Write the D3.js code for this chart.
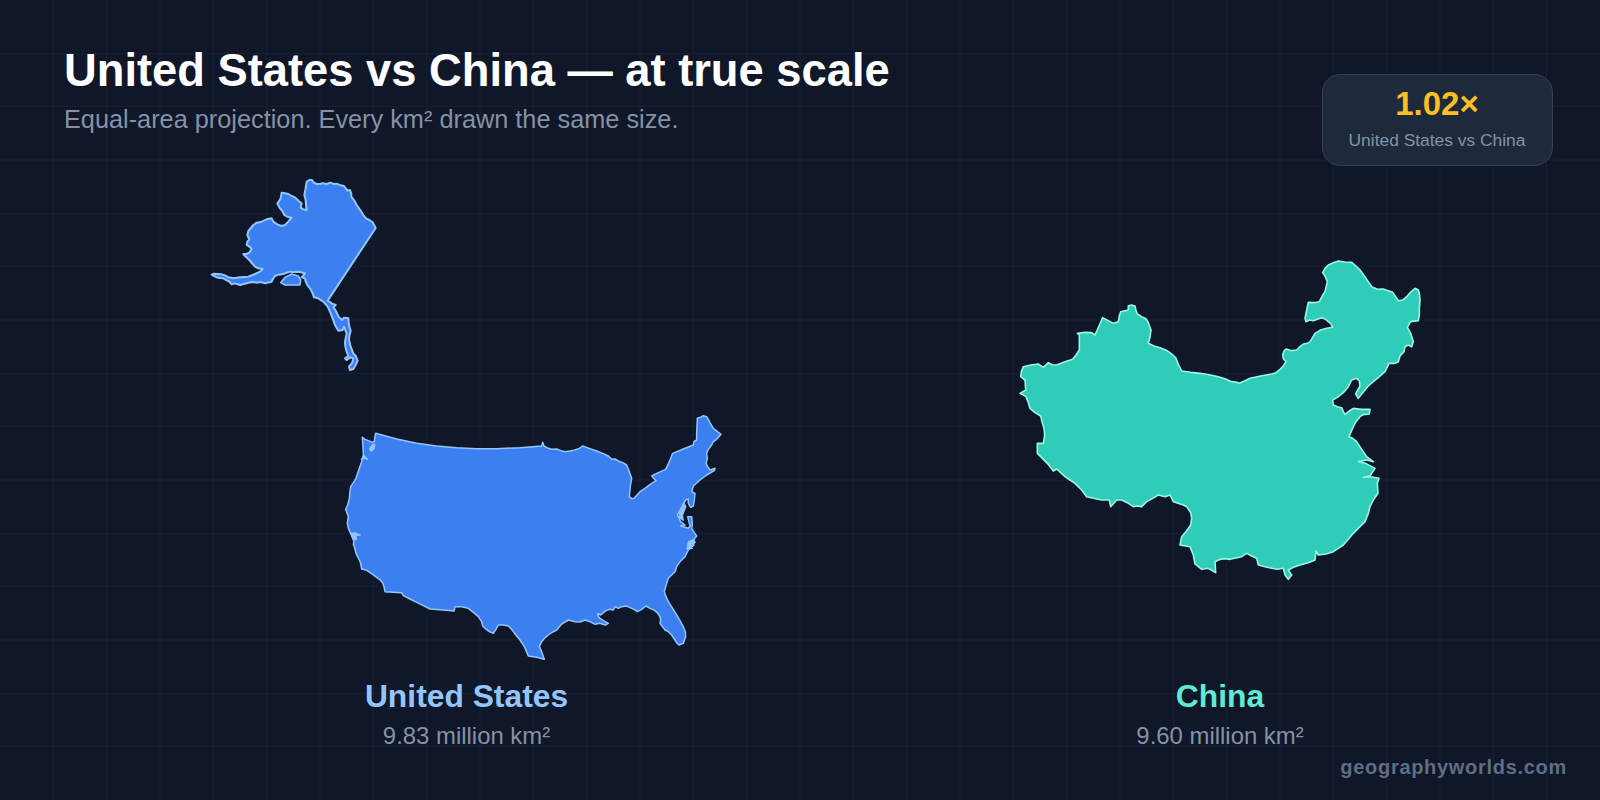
<!DOCTYPE html>
<html>
<head>
<meta charset="utf-8">
<script src="https://cdn.jsdelivr.net/npm/d3@7"></script>
<style>
  html, body { margin: 0; padding: 0; background: #0f1729; overflow: hidden; }
  svg { display: block; }
  text { font-family: "Liberation Sans", Arial, sans-serif; }
</style>
</head>
<body>
<div id="chart"></div>
<script>
// outlines, in map units (3 units = 1 screen pixel)
const alaskaRing = [[350,35],[358,30],[366,30],[372,38],[380,42],[390,42],[398,40],[410,42],[420,38],[432,42],[440,41],[452,46],[462,48],[468,56],[472,62],[480,60],[484,72],[484,80],[490,88],[495,95],[500,105],[507,115],[514,125],[520,135],[528,145],[538,150],[548,157],[557,174],[413,392],[425,400],[437,405],[430,412],[436,420],[440,428],[447,442],[457,450],[462,443],[475,445],[476,458],[478,470],[482,482],[478,498],[477,510],[482,530],[490,550],[497,558],[503,572],[497,585],[490,597],[480,600],[477,590],[487,578],[490,565],[482,562],[470,570],[465,565],[475,558],[470,545],[466,530],[465,515],[470,490],[462,470],[458,480],[445,482],[435,465],[428,445],[420,425],[413,410],[400,395],[385,385],[372,382],[368,370],[362,358],[352,345],[347,335],[345,325],[335,322],[345,310],[325,305],[310,306],[300,305],[280,312],[265,314],[255,318],[248,328],[245,335],[225,340],[212,336],[200,338],[185,336],[170,340],[150,345],[135,340],[125,343],[118,335],[108,330],[100,325],[88,324],[80,322],[65,314],[72,311],[85,312],[95,313],[105,316],[115,322],[130,325],[150,322],[175,320],[195,312],[210,305],[218,297],[205,295],[195,290],[188,282],[178,270],[165,258],[160,252],[170,252],[178,248],[185,236],[178,230],[170,225],[172,215],[178,208],[172,195],[175,183],[190,165],[200,158],[215,155],[230,148],[245,145],[250,155],[262,163],[275,168],[285,165],[295,155],[305,143],[293,141],[283,135],[278,125],[268,112],[262,100],[268,92],[272,85],[275,68],[285,70],[295,72],[305,78],[315,82],[325,92],[335,100],[332,112],[340,118],[350,120],[348,105],[347,90],[343,75],[346,60]];
const alaskaInlet = [[272,338],[285,322],[305,312],[325,318],[332,330],[330,345],[305,345],[285,345]];

const conusRing = [[137,100],[200,117],[260,130],[320,138],[380,143],[440,146],[500,146],[570,143],[635,138],[638,127],[642,138],[655,145],[665,148],[680,147],[693,152],[705,155],[720,153],[735,150],[748,145],[758,138],[780,146],[800,153],[820,161],[835,168],[845,178],[855,177],[865,183],[878,188],[890,195],[898,215],[905,235],[902,252],[900,268],[898,290],[905,296],[912,295],[930,275],[948,263],[965,250],[978,242],[965,228],[985,218],[1007,208],[1018,185],[1028,160],[1060,147],[1090,135],[1092,125],[1100,120],[1100,100],[1102,55],[1112,52],[1120,47],[1130,50],[1135,58],[1142,72],[1150,85],[1173,103],[1165,112],[1160,118],[1150,125],[1145,135],[1135,148],[1130,160],[1132,175],[1128,190],[1133,200],[1140,210],[1155,205],[1153,212],[1130,225],[1110,240],[1090,258],[1085,275],[1095,280],[1093,300],[1090,318],[1082,322],[1075,310],[1075,297],[1067,300],[1060,312],[1055,325],[1048,335],[1042,345],[1048,355],[1052,365],[1065,375],[1052,378],[1070,383],[1075,385],[1080,378],[1073,350],[1085,350],[1087,375],[1085,385],[1093,398],[1100,408],[1090,420],[1080,425],[1092,435],[1075,450],[1065,470],[1050,485],[1040,500],[1035,515],[1015,535],[1010,550],[1003,575],[1008,590],[1015,605],[1028,625],[1040,645],[1050,662],[1060,680],[1066,695],[1067,710],[1060,730],[1047,735],[1040,728],[1035,720],[1025,705],[1015,695],[1005,690],[990,670],[992,660],[990,650],[983,640],[975,632],[960,625],[948,618],[935,628],[922,635],[912,628],[905,625],[890,618],[875,620],[865,625],[855,620],[850,630],[838,628],[828,632],[812,645],[802,640],[806,650],[810,655],[820,662],[835,670],[825,675],[810,670],[795,673],[780,665],[765,660],[750,666],[735,665],[715,660],[695,672],[680,690],[665,698],[655,705],[642,716],[635,725],[628,740],[635,755],[643,778],[620,772],[595,768],[583,740],[575,728],[570,720],[560,708],[550,695],[542,685],[535,678],[520,675],[505,675],[498,688],[490,700],[478,695],[465,685],[458,678],[455,665],[445,650],[430,637],[415,625],[395,620],[375,620],[372,633],[340,630],[300,627],[280,617],[260,607],[240,597],[220,587],[215,578],[165,575],[162,560],[158,548],[148,538],[140,532],[128,523],[120,518],[108,510],[95,507],[92,490],[88,480],[78,460],[75,447],[70,432],[72,425],[62,400],[55,385],[52,370],[55,350],[47,328],[53,315],[58,295],[60,275],[62,260],[72,245],[78,235],[88,205],[95,185],[100,165],[99,140],[97,112],[105,118],[115,122],[127,127],[133,125],[135,110]];
const conusBays = [
  [[118,148],[125,135],[135,132],[132,148],[124,155]],
  [[93,178],[102,166],[114,178],[102,176]],
  [[62,400],[75,398],[92,405],[78,407],[80,420],[70,418]],
  [[1048,332],[1062,308],[1068,320],[1058,345],[1060,362],[1048,352]],
  [[1075,425],[1092,418],[1096,428],[1080,440],[1088,445],[1070,448]]
];

const chinaRing = [[385,167],[395,165],[405,168],[408,182],[412,192],[425,200],[438,206],[445,218],[453,240],[450,262],[445,280],[462,288],[480,293],[497,300],[510,308],[522,318],[528,325],[536,345],[545,363],[572,367],[600,370],[628,374],[655,380],[675,386],[695,395],[708,396],[718,400],[735,392],[750,385],[782,378],[815,372],[828,368],[840,358],[850,348],[858,335],[850,326],[848,315],[852,303],[858,297],[875,302],[890,300],[900,290],[910,282],[922,280],[930,275],[938,262],[945,250],[962,240],[980,235],[998,232],[993,222],[985,215],[975,207],[965,203],[952,208],[940,212],[928,210],[918,215],[915,205],[920,180],[925,157],[942,158],[958,155],[968,135],[975,125],[982,95],[976,80],[968,68],[975,55],[985,45],[1000,38],[1015,33],[1035,36],[1055,37],[1068,48],[1080,60],[1098,85],[1115,110],[1132,118],[1150,117],[1165,122],[1178,127],[1187,140],[1195,152],[1208,150],[1220,140],[1232,126],[1245,115],[1255,120],[1258,130],[1260,150],[1258,175],[1258,195],[1255,212],[1232,215],[1222,232],[1232,250],[1240,275],[1235,290],[1225,285],[1215,290],[1212,305],[1200,318],[1195,335],[1185,340],[1167,340],[1160,355],[1155,365],[1138,380],[1120,395],[1105,408],[1095,420],[1085,432],[1075,445],[1067,432],[1080,408],[1078,393],[1070,385],[1055,390],[1045,410],[1030,428],[1012,442],[998,450],[1000,465],[1012,470],[1025,473],[1030,485],[1035,493],[1048,483],[1060,475],[1085,478],[1110,478],[1108,492],[1090,494],[1080,500],[1068,515],[1060,530],[1047,560],[1058,565],[1070,575],[1085,598],[1100,620],[1120,635],[1100,630],[1075,635],[1097,640],[1125,655],[1110,678],[1090,682],[1112,680],[1137,685],[1132,700],[1134,730],[1120,750],[1110,770],[1105,790],[1095,815],[1080,830],[1060,850],[1045,868],[1030,885],[1015,895],[1000,905],[978,912],[955,915],[948,903],[945,930],[925,938],[900,945],[880,952],[865,960],[875,975],[865,988],[855,975],[850,955],[832,958],[815,955],[795,950],[775,945],[770,925],[755,918],[740,910],[725,920],[708,924],[690,928],[675,926],[660,928],[645,935],[647,968],[625,955],[605,958],[595,950],[585,942],[580,915],[570,890],[540,885],[545,860],[560,842],[572,825],[575,805],[572,788],[560,770],[550,765],[520,755],[510,735],[495,740],[475,735],[458,745],[440,755],[425,770],[410,768],[400,770],[382,758],[365,750],[350,750],[332,770],[328,750],[305,750],[280,745],[260,740],[245,720],[225,700],[210,690],[195,680],[170,657],[160,663],[142,640],[122,620],[112,610],[112,580],[130,580],[134,555],[132,535],[126,515],[122,498],[105,488],[90,475],[85,458],[78,440],[60,430],[77,420],[75,390],[62,380],[64,365],[70,350],[92,345],[115,342],[130,352],[145,338],[158,345],[170,345],[195,335],[218,328],[228,315],[238,300],[238,255],[232,250],[255,247],[275,248],[285,255],[297,228],[308,203],[325,212],[340,220],[355,215],[358,198],[362,185],[375,182],[385,180]];

const countries = ['United States', 'China'];
const areasMillionKm2 = [9.83, 9.60];
const ratioText = '1.02×';
const titleText = 'United States vs China — at true scale';
const subtitleText = 'Equal-area projection. Every km² drawn the same size.';
const creditText = 'geographyworlds.com';

const W = 1600, H = 800;
const gridStep = W / 30;

const svg = d3.select('#chart').append('svg')
    .attr('width', W)
    .attr('height', H)
    .attr('viewBox', `0 0 ${W} ${H}`);

svg.append('rect')
    .attr('width', W)
    .attr('height', H)
    .attr('fill', '#0f1729');

// background grid
const gridX = d3.range(gridStep, W, gridStep);
const gridY = d3.range(gridStep, H, gridStep);
const gridG = svg.append('g')
    .attr('stroke', '#94a3b8')
    .attr('stroke-opacity', 0.065)
    .attr('stroke-width', 1);
gridG.selectAll('.gx').data(gridX).join('line')
    .attr('class', 'gx')
    .attr('x1', d => d).attr('x2', d => d)
    .attr('y1', 0).attr('y2', H);
gridG.selectAll('.gy').data(gridY).join('line')
    .attr('class', 'gy')
    .attr('y1', d => d).attr('y2', d => d)
    .attr('x1', 0).attr('x2', W);

function polygon(ring) {
    return { type: 'Polygon', coordinates: [[...ring, ring[0]]] };
}

function pathAt(x, y) {
    return d3.geoPath(d3.geoIdentity().scale(1 / 3).translate([x, y]));
}

const alaskaPath = pathAt(190, 170);
const conusPath = pathAt(330, 400);
const chinaPath = pathAt(1000, 250);

const usFill = '#3b7ff0', usStroke = '#93c5fd';
const cnFill = '#2fcdb9', cnStroke = '#99f6e4';

function drawShape(path, ring, fill, stroke, width) {
    svg.append('path')
        .attr('d', path(polygon(ring)))
        .attr('fill', fill)
        .attr('stroke', stroke)
        .attr('stroke-width', width)
        .attr('stroke-linejoin', 'round');
}

drawShape(alaskaPath, alaskaRing, usFill, usStroke, 2);
drawShape(alaskaPath, alaskaInlet, usFill, usStroke, 1.5);
drawShape(conusPath, conusRing, usFill, usStroke, 1.5);
conusBays.forEach(b => drawShape(conusPath, b, usStroke, usStroke, 1));
drawShape(chinaPath, chinaRing, cnFill, cnStroke, 1.6);

// title block
svg.append('text')
    .attr('x', 64).attr('y', 86)
    .attr('fill', '#ffffff')
    .attr('font-size', 45.3)
    .attr('font-weight', 700)
    .text(titleText);
svg.append('text')
    .attr('x', 64).attr('y', 128)
    .attr('fill', '#8592a6')
    .attr('font-size', 25.3)
    .text(subtitleText);

// ratio card
svg.append('rect')
    .attr('x', 1322.5).attr('y', 74.5)
    .attr('width', 230).attr('height', 91)
    .attr('rx', 18)
    .attr('fill', '#1e293b')
    .attr('stroke', '#334155')
    .attr('stroke-width', 1);
svg.append('text')
    .attr('x', 1437).attr('y', 115)
    .attr('text-anchor', 'middle')
    .attr('fill', '#fbbf24')
    .attr('font-size', 33)
    .attr('font-weight', 700)
    .text(ratioText);
svg.append('text')
    .attr('x', 1437).attr('y', 146)
    .attr('text-anchor', 'middle')
    .attr('fill', '#8592a6')
    .attr('font-size', 17.4)
    .text(countries.join(' vs '));

// country labels
const labelX = d3.scalePoint().domain(countries).range([466.5, 1220]);
const labelColor = d3.scaleOrdinal().domain(countries).range(['#93c5fd', '#5eead4']);

svg.selectAll('.name').data(countries).join('text')
    .attr('class', 'name')
    .attr('x', d => labelX(d)).attr('y', 707)
    .attr('text-anchor', 'middle')
    .attr('fill', d => labelColor(d))
    .attr('font-size', 31.8)
    .attr('font-weight', 700)
    .text(d => d);
svg.selectAll('.area').data(countries).join('text')
    .attr('class', 'area')
    .attr('x', d => labelX(d)).attr('y', 744)
    .attr('text-anchor', 'middle')
    .attr('fill', '#8592a6')
    .attr('font-size', 23.9)
    .text((d, i) => `${d3.format('.2f')(areasMillionKm2[i])} million km²`);

svg.append('text')
    .attr('x', 1567).attr('y', 774)
    .attr('text-anchor', 'end')
    .attr('fill', '#5f6e85')
    .attr('font-size', 20)
    .attr('font-weight', 700)
    .attr('letter-spacing', 0.7)
    .text(creditText);
</script>
</body>
</html>
